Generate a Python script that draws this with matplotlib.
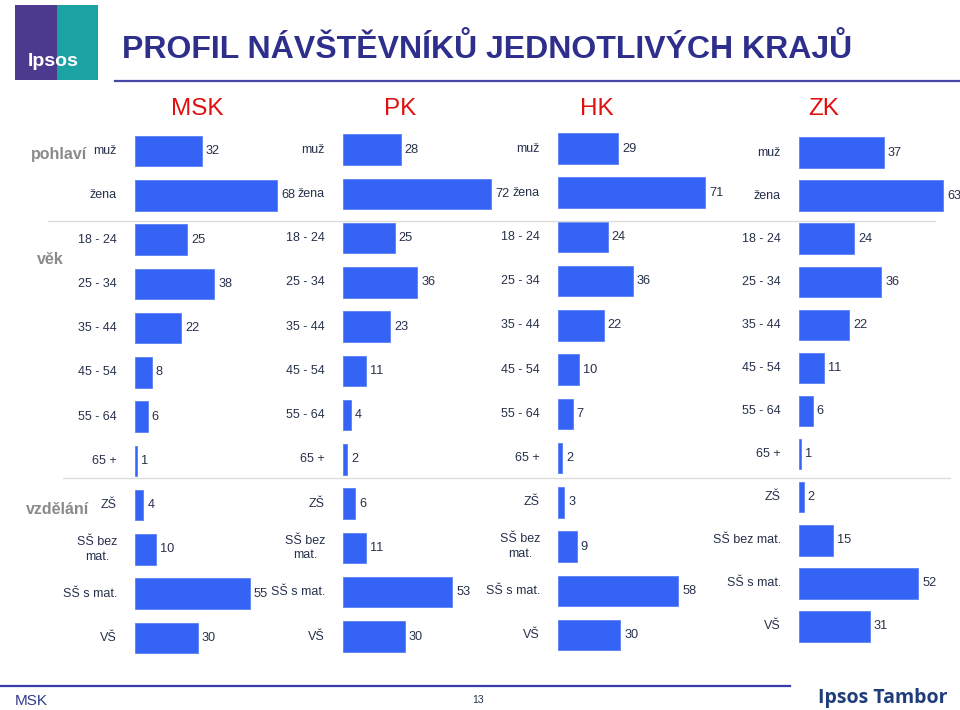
import matplotlib
matplotlib.use("Agg")
import matplotlib.pyplot as plt
from matplotlib.patches import Rectangle
from matplotlib.lines import Line2D

plt.rcParams['font.family'] = ['Liberation Sans', 'DejaVu Sans']

# ---------------- data ----------------
regions = ["MSK", "PK", "HK", "ZK"]
categories = ["muž", "žena", "18 - 24", "25 - 34", "35 - 44", "45 - 54", "55 - 64", "65 +",
              "ZŠ", "SŠ bez\nmat.", "SŠ s mat.", "VŠ"]
categories_zk = ["muž", "žena", "18 - 24", "25 - 34", "35 - 44", "45 - 54", "55 - 64", "65 +",
                 "ZŠ", "SŠ bez mat.", "SŠ s mat.", "VŠ"]
groups = ["pohlaví", "věk", "vzdělání"]

msk_values = [32, 68, 25, 38, 22, 8, 6, 1, 4, 10, 55, 30]
pk_values = [28, 72, 25, 36, 23, 11, 4, 2, 6, 11, 53, 30]
hk_values = [29, 71, 24, 36, 22, 10, 7, 2, 3, 9, 58, 30]
zk_values = [37, 63, 24, 36, 22, 11, 6, 1, 2, 15, 52, 31]

title = "PROFIL NÁVŠTĚVNÍKŮ JEDNOTLIVÝCH KRAJŮ"
footer_left = "MSK"
page_number = "13"
brand = "Ipsos Tambor"

# ---------------- layout ----------------
W, H = 960, 710
fig = plt.figure(figsize=(W / 100, H / 100), dpi=100)
fig.patch.set_facecolor("white")

def fx(x):
    return x / W

def fy(y):
    return 1 - y / H

BAR = "#3563f5"
TXT = "#26304a"
RED = "#e01010"
NAVY = "#2e2e8c"

# panel geometry: bar start px, px per unit, axes width px, first row y, last row y, header x
geom = [
    (135, 2.09, 200, 151.0, 638.0, 197),
    (343, 2.06, 200, 149.5, 636.5, 400),
    (558, 2.075, 225, 148.5, 635.0, 597),
    (799, 2.29, 155, 152.5, 626.5, 824),
]
values_all = [msk_values, pk_values, hk_values, zk_values]
cats_all = [categories, categories, categories, categories_zk]

for reg, vals, cats, (x0, ppu, wpx, y0, y11, hx) in zip(regions, values_all, cats_all, geom):
    n = len(vals)
    sp = (y11 - y0) / (n - 1)
    top = y0 - sp / 2
    bot = y11 + sp / 2
    ax = fig.add_axes([fx(x0), fy(bot), wpx / W, (bot - top) / H])
    ax.set_xlim(0, wpx / ppu)
    ax.set_ylim(n - 0.5, -0.5)
    ax.axis("off")
    ypos = list(range(n))
    ax.barh(ypos, vals, height=30.5 / sp, color=BAR, edgecolor="#5a80f7", linewidth=0.6)
    for i, (v, c) in enumerate(zip(vals, cats)):
        ax.annotate(str(v), xy=(v, i), xytext=(4, 0), textcoords="offset pixels",
                    ha="left", va="center", fontsize=9.2, color=TXT, annotation_clip=False)
        ax.annotate(c, xy=(0, i), xytext=(-18, 0), textcoords="offset pixels",
                    ha="right", va="center", fontsize=9, color=TXT,
                    multialignment="center", linespacing=1.25, annotation_clip=False)
    fig.text(fx(hx), fy(109), reg, ha="center", va="center", fontsize=17.5, color=RED)

# group labels
for g, (gx, gy) in zip(groups, [(59, 155), (50, 260), (58, 509)]):
    fig.text(fx(gx), fy(gy), g, ha="center", va="center", fontsize=11.5,
             fontweight="bold", color="#8a8a8a")

# separators
fig.add_artist(Line2D([fx(48), fx(935)], [fy(221), fy(221)], color="#dcdcdc", lw=1.0))
fig.add_artist(Line2D([fx(63), fx(950)], [fy(478), fy(478)], color="#dcdcdc", lw=1.0))

# title and rule
fig.text(fx(122), fy(58), title, ha="left", va="baseline", fontsize=23,
         fontweight="bold", color=NAVY)
fig.add_artist(Line2D([fx(115), fx(960)], [fy(81), fy(81)], color="#4747a8", lw=1.6))

# logo
fig.add_artist(Rectangle((fx(15), fy(80)), fx(42), 75 / H, color="#4b3a8e", lw=0))
fig.add_artist(Rectangle((fx(57), fy(80)), fx(41), 75 / H, color="#1ba3a3", lw=0))
fig.text(fx(53), fy(62), "Ipsos", ha="center", va="center", fontsize=14,
         fontweight="bold", color="white")

# footer
fig.add_artist(Line2D([fx(0), fx(790)], [fy(686), fy(686)], color="#3a3aa8", lw=1.6))
fig.text(fx(15), fy(701), footer_left, ha="left", va="center", fontsize=11, color="#2e3a8c")
fig.text(fx(478), fy(700), page_number, ha="center", va="center", fontsize=7.5, color=TXT)
fig.text(fx(818), fy(698), brand, ha="left", va="center", fontsize=14,
         fontweight="bold", color="#1f3d7a", family=["Open Sans", "DejaVu Sans"])

fig.savefig("out.png", dpi=100, facecolor="white")
